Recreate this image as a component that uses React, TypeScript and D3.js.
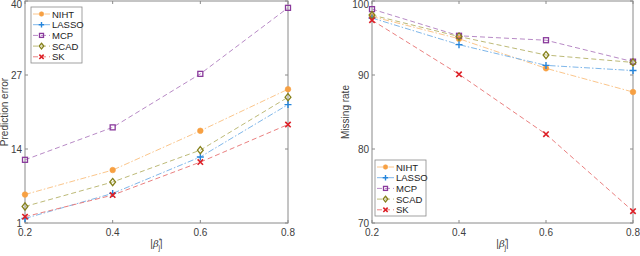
import React from 'react'
import * as d3 from 'd3'

const betas = [0.2, 0.4, 0.6, 0.8]
const methods = ['NIHT', 'LASSO', 'MCP', 'SCAD', 'SK']

const predNIHT = [6.0, 10.3, 17.2, 24.5]
const predLASSO = [1.8, 6.2, 12.6, 21.8]
const predMCP = [12.1, 17.8, 27.2, 38.8]
const predSCAD = [3.9, 8.2, 13.8, 23.1]
const predSK = [2.1, 5.9, 11.7, 18.3]

const missNIHT = [97.9, 94.9, 90.9, 87.7]
const missLASSO = [97.7, 94.1, 91.3, 90.6]
const missMCP = [98.9, 95.3, 94.7, 91.8]
const missSCAD = [98.1, 95.2, 92.7, 91.7]
const missSK = [97.4, 90.1, 82.0, 71.6]

const predTicks = [1, 14, 27, 40]
const missTicks = [70, 80, 90, 100]

const styles = {
  NIHT: { color: '#f7a042', line: '#fbc68c', dash: '6,2,1.5,2', marker: 'star' },
  LASSO: { color: '#2585dc', line: '#7fb7ea', dash: '6,2,1.5,2', marker: 'plus' },
  MCP: { color: '#8a3a9c', line: '#b88ac6', dash: '5,3', marker: 'square' },
  SCAD: { color: '#85801a', line: '#bdba78', dash: '5,3', marker: 'diamond' },
  SK: { color: '#dd1f26', line: '#ea8080', dash: '5,3', marker: 'x' },
}

const font = 'Liberation Sans, Arial, sans-serif'
const axisColor = '#8a8a8a'
const textColor = '#404040'

function Marker({ kind, x, y, color, s = 1 }) {
  if (kind === 'star')
    return <circle cx={x} cy={y} r={2.8 * s} fill={color} stroke={color} strokeWidth={0.6} />
  if (kind === 'plus')
    return (
      <path d={`M${x - 3.5 * s},${y}H${x + 3.5 * s}M${x},${y - 3.5 * s}V${y + 3.5 * s}`} stroke={color} strokeWidth={1.4} />
    )
  if (kind === 'square')
    return <rect x={x - 2.5 * s} y={y - 2.5 * s} width={5 * s} height={5 * s} fill="none" stroke={color} strokeWidth={1.3} />
  if (kind === 'diamond')
    return (
      <path
        d={`M${x},${y - 3.6 * s}L${x + 2.9 * s},${y}L${x},${y + 3.6 * s}L${x - 2.9 * s},${y}Z`}
        fill="none"
        stroke={color}
        strokeWidth={1.3}
      />
    )
  return (
    <path
      d={`M${x - 2.7 * s},${y - 2.7 * s}L${x + 2.7 * s},${y + 2.7 * s}M${x - 2.7 * s},${y + 2.7 * s}L${x + 2.7 * s},${y - 2.7 * s}`}
      stroke={color}
      strokeWidth={1.6}
    />
  )
}

function BetaLabel({ x, y }) {
  return (
    <text x={x} y={y} fontFamily={font} fontSize={10} fill={textColor} textAnchor="middle">
      |<tspan fontStyle="italic" fontFamily="DejaVu Serif, serif">β</tspan>
      <tspan dy={-4} fontSize={7}>*</tspan>
      <tspan dx={-3} dy={7} fontSize={7}>j</tspan>
      <tspan dy={-3}>|</tspan>
    </text>
  )
}

function Panel({ left, right, domain, ticks, series, ylabel, labelX, legend }) {
  const top = 1
  const bottom = 223
  const x = d3.scaleLinear().domain([0.2, 0.8]).range([left, right])
  const y = d3.scaleLinear().domain(domain).range([bottom, top])
  const line = d3
    .line<number>()
    .x((_, i) => x(betas[i]))
    .y(d => y(d))
  return (
    <g>
      <rect x={left} y={top} width={right - left} height={bottom - top} fill="white" stroke={axisColor} strokeWidth={1} />
      {betas.map(b => (
        <g key={b}>
          <line x1={x(b)} x2={x(b)} y1={bottom} y2={bottom - 3} stroke={axisColor} />
          <line x1={x(b)} x2={x(b)} y1={top} y2={top + 3} stroke={axisColor} />
          <text x={x(b)} y={bottom + 13} textAnchor="middle" fontFamily={font} fontSize={10} fill={textColor}>
            {b}
          </text>
        </g>
      ))}
      {ticks.map(t => (
        <g key={t}>
          <line x1={left} x2={left + 3} y1={y(t)} y2={y(t)} stroke={axisColor} />
          <line x1={right} x2={right - 3} y1={y(t)} y2={y(t)} stroke={axisColor} />
          <text
            x={left - 3}
            y={Math.max(y(t) + 3.5, 8)}
            textAnchor="end"
            fontFamily={font}
            fontSize={10}
            fill={textColor}
          >
            {t}
          </text>
        </g>
      ))}
      <text
        transform={`translate(${labelX},${(top + bottom) / 2}) rotate(-90)`}
        textAnchor="middle"
        fontFamily={font}
        fontSize={10}
        fill={textColor}
      >
        {ylabel}
      </text>
      <BetaLabel x={(left + right) / 2} y={247} />
      {methods.map((m, k) => (
        <path key={m} d={line(series[k])} fill="none" stroke={styles[m].line} strokeWidth={1} strokeDasharray={styles[m].dash} />
      ))}
      {methods.map((m, k) =>
        series[k].map((v, i) => <Marker key={m + i} kind={styles[m].marker} x={x(betas[i])} y={y(v)} color={styles[m].color} />)
      )}
      <g transform={`translate(${legend.x},${legend.y})`}>
        <rect x={0} y={0} width={51} height={56} fill="white" stroke={axisColor} strokeWidth={0.8} />
        {methods.map((m, k) => (
          <g key={m} transform={`translate(0,${7 + k * 10.7})`}>
            <line x1={2} x2={19} y1={0} y2={0} stroke={styles[m].line} strokeDasharray={styles[m].dash} />
            <Marker kind={styles[m].marker} x={10.5} y={0} color={styles[m].color} s={0.8} />
            <text x={21} y={3.5} fontFamily={font} fontSize={9.5} fill="#222">
              {m}
            </text>
          </g>
        ))}
      </g>
    </g>
  )
}

export default function App() {
  return (
    <svg width={640} height={256} style={{ position: 'absolute', left: 0, top: 0 }}>
      <rect width={640} height={256} fill="white" />
      <Panel
        left={25}
        right={288}
        domain={[1, 40]}
        ticks={predTicks}
        series={[predNIHT, predLASSO, predMCP, predSCAD, predSK]}
        ylabel="Prediction error"
        labelX={8}
        legend={{ x: 31, y: 7 }}
      />
      <Panel
        left={372}
        right={633}
        domain={[70, 100]}
        ticks={missTicks}
        series={[missNIHT, missLASSO, missMCP, missSCAD, missSK]}
        ylabel="Missing rate"
        labelX={349}
        legend={{ x: 375, y: 160 }}
      />
    </svg>
  )
}
